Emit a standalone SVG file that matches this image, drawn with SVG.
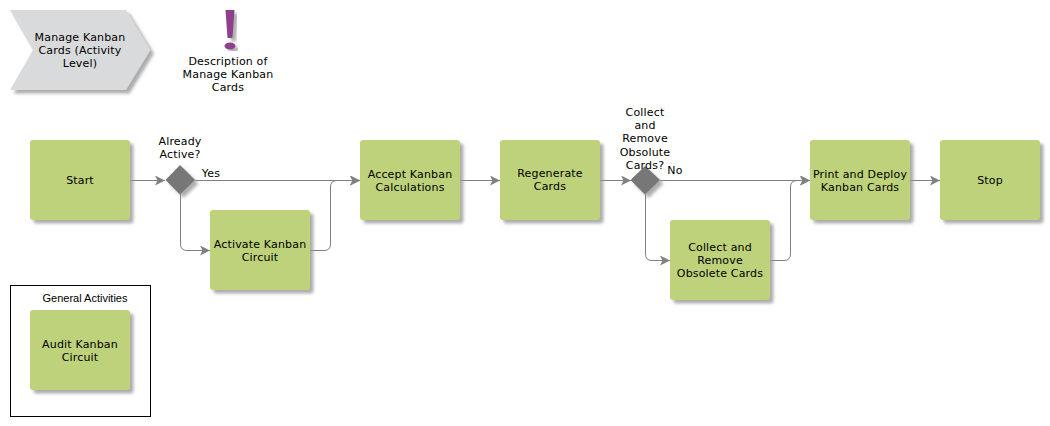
<svg xmlns="http://www.w3.org/2000/svg" width="1050" height="426" viewBox="0 0 1050 426">
<style>
text{font-family:"DejaVu Sans",sans-serif;font-size:11px;letter-spacing:.17px;fill:#000;text-anchor:middle}
.task{fill:#bdd27a;filter:url(#sh)}
.dec{fill:#777;filter:url(#sh)}
.c{fill:none;stroke:#808080;stroke-width:1}
.a{marker-end:url(#ah)}
</style>
<defs>
<filter id="sh" x="-15%" y="-15%" width="135%" height="135%"><feDropShadow dx="3.5" dy="3.5" stdDeviation="1.6" flood-color="#999" flood-opacity=".8"/></filter>
<marker id="ah" markerUnits="userSpaceOnUse" markerWidth="11" markerHeight="10" refX="10" refY="5" orient="auto"><path d="M0 0L10 5L0 10L2.500 5Z" fill="#808080"/></marker>
</defs>
<g id="connectors">
<path class="c a" d="M130 180.500H165"/>
<path class="c a" d="M195 180.500H360"/>
<path class="c a" d="M180.500 194V244Q180.500 250.500 187 250.500H210"/>
<path class="c a" d="M310 250.500H324Q330.500 250.500 330.500 244V187Q330.500 180.500 337 180.500H360"/>
<path class="c a" d="M460 180.500H500"/>
<path class="c a" d="M600 180.500H631"/>
<path class="c a" d="M660 180.500H810"/>
<path class="c a" d="M645.500 194V254Q645.500 260.500 652 260.500H670"/>
<path class="c a" d="M770 260.500H784Q790.500 260.500 790.500 254V187Q790.500 180.500 797 180.500H810"/>
<path class="c a" d="M910 180.500H940"/>
</g>
<g id="header"><path d="M10 10H126L150.500 50L126 90H10L33 50Z" fill="#d9dadc" filter="url(#sh)"/>
<text x="80" y="41">Manage Kanban</text><text x="80" y="54">Cards (Activity</text><text x="80" y="67">Level)</text></g>
<g id="note"><path d="M225.500 10H234.500L232.500 38H227.500Z" fill="#8e3f8e" filter="url(#sh)"/><ellipse cx="230" cy="46" rx="5.500" ry="3.500" fill="#8e3f8e" filter="url(#sh)"/>
<text x="228" y="65">Description of</text><text x="228" y="78">Manage Kanban</text><text x="228" y="91">Cards</text></g>
<g id="start"><rect class="task" x="30" y="140" width="100" height="80" rx="3"/><text x="80" y="184">Start</text></g>
<g id="d1"><path class="dec" d="M180 165L195 180L180 194.500L165.500 180Z"/><text x="180" y="145">Already</text><text x="180" y="158">Active?</text><text x="211" y="177">Yes</text></g>
<g id="activate"><rect class="task" x="210" y="210" width="100" height="80" rx="3"/><text x="260" y="248">Activate Kanban</text><text x="260" y="261">Circuit</text></g>
<g id="accept"><rect class="task" x="360" y="140" width="100" height="80" rx="3"/><text x="410" y="178">Accept Kanban</text><text x="410" y="191">Calculations</text></g>
<g id="regen"><rect class="task" x="500" y="140" width="100" height="80" rx="3"/><text x="550" y="177">Regenerate</text><text x="550" y="190">Cards</text></g>
<g id="d2"><path class="dec" d="M645 166L660 180L645 194.500L630.500 180Z"/><text x="645" y="116">Collect</text><text x="645" y="129">and</text><text x="645" y="142">Remove</text><text x="645" y="156">Obsolute</text><text x="645" y="169">Cards?</text><text x="675" y="174">No</text></g>
<g id="collect"><rect class="task" x="670" y="220" width="100" height="80" rx="3"/><text x="720" y="251">Collect and</text><text x="720" y="264">Remove</text><text x="720" y="277">Obsolete Cards</text></g>
<g id="print"><rect class="task" x="810" y="140" width="100" height="80" rx="3"/><text x="860" y="178">Print and Deploy</text><text x="860" y="191">Kanban Cards</text></g>
<g id="stop"><rect class="task" x="940" y="140" width="100" height="80" rx="3"/><text x="990" y="184">Stop</text></g>
<g id="general"><rect x="10.500" y="285.500" width="140" height="131" fill="#fff" stroke="#000"/><text x="85" y="302" style="font-family:'Liberation Sans',sans-serif;letter-spacing:0">General Activities</text>
<rect class="task" x="30" y="310" width="100" height="80" rx="3"/><text x="80" y="348">Audit Kanban</text><text x="80" y="361">Circuit</text></g>
</svg>
